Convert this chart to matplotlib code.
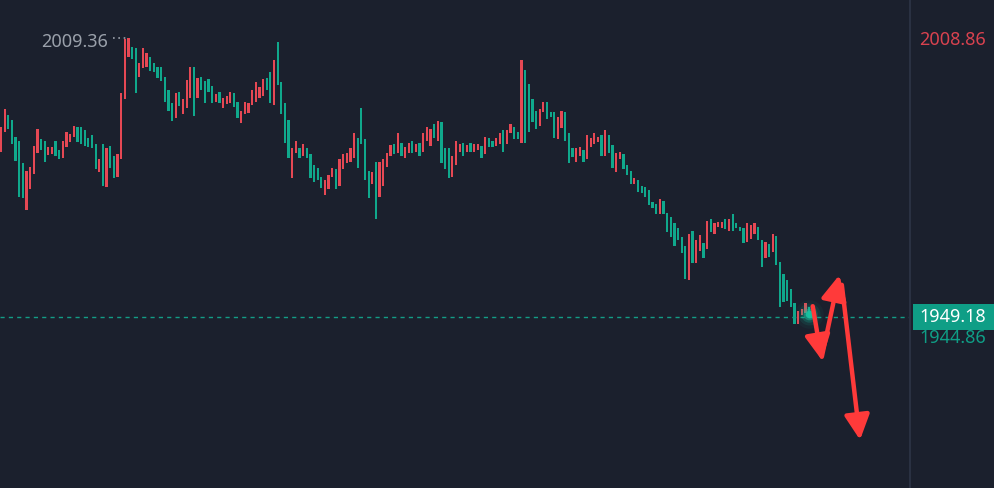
import matplotlib

matplotlib.use("Agg")
import matplotlib.pyplot as plt
from matplotlib.patches import Rectangle
import numpy as np

# candle bodies, oldest first (red = up, green = down)
opens = [
    1984.7, 1989.0, 1992.7, 1991.6, 1988.0, 1987.1, 1982.4, 1972.2, 1976.8, 1980.0,
    1984.5, 1987.5, 1987.1, 1984.1, 1984.3, 1987.1, 1985.2, 1983.4, 1985.8, 1986.9,
    1988.0, 1990.1, 1990.1, 1989.5, 1987.7, 1988.4, 1986.5, 1980.4, 1986.5, 1977.2,
    1986.0, 1983.9, 1979.3,
    1983.2, 1996.2, 2005.2, 2007.4, 2007.1, 2000.9, 2002.8, 2003.0, 2005.2, 2003.9,
    2003.0, 2003.0, 2000.9, 1998.1, 1995.3, 1992.1, 1997.7, 1992.9, 1994.2, 1996.4,
    2003.0, 1996.4, 2000.9, 2000.0, 2000.5, 1999.0, 1995.5, 1997.7, 1994.2, 1995.1,
    1995.3, 1997.4,
    1995.5, 1991.0, 1992.9, 1993.2, 1994.9, 1995.5, 1996.4, 1996.8, 2000.7, 2002.0,
    1994.9, 2008.4, 1999.8, 1995.3, 1991.6, 1979.1, 1984.5, 1985.6, 1983.9, 1985.6,
    1984.3, 1981.9, 1981.3, 1979.3, 1975.5, 1976.8, 1979.3, 1981.1, 1977.4, 1981.1,
    1982.4,
    1982.6, 1983.4, 1987.7, 1994.2, 1987.5, 1980.6, 1977.8, 1982.6, 1975.0, 1977.4,
    1981.5, 1983.9, 1986.5, 1984.5, 1986.7, 1983.4, 1984.5, 1987.1, 1984.7, 1986.7,
    1984.7, 1987.1, 1986.0, 1990.8, 1987.1, 1991.2, 1985.6, 1985.6, 1979.3, 1981.9,
    1984.7, 1986.7,
    1984.7, 1986.7, 1984.7, 1985.2, 1986.0, 1984.3, 1987.7, 1987.1, 1986.0, 1986.5,
    1989.5, 1986.5, 1988.8, 1990.1, 1989.0, 1986.7, 2002.4, 1999.4, 1996.2, 1993.6,
    1990.3, 1993.3, 1995.5, 1993.3, 1993.3, 1987.5, 1989.9, 1993.3, 1988.8, 1985.6,
    1982.6,
    1983.9, 1985.2, 1983.2, 1985.8, 1986.5, 1986.9, 1988.4, 1983.9, 1988.4, 1986.2,
    1980.4, 1983.2, 1984.3, 1981.9, 1980.6, 1977.8, 1978.7, 1977.4, 1977.2, 1976.5,
    1974.0, 1973.5, 1971.4, 1974.2, 1971.6, 1970.7, 1969.4, 1968.4, 1966.4, 1964.5,
    1957.2, 1967.7,
    1960.8, 1963.4, 1965.1, 1963.8, 1970.3, 1967.1, 1968.6, 1968.4, 1970.3, 1967.7,
    1971.4, 1969.4, 1968.4, 1968.4, 1965.3, 1966.0, 1967.1, 1968.6, 1965.8, 1961.9,
    1964.9, 1963.2, 1966.6, 1961.0, 1958.4, 1957.2, 1955.2, 1952.2, 1947.7, 1949.6,
    1950.0, 1951.3,
]
closes = [
    1990.1, 1994.0, 1989.7, 1986.5, 1982.8, 1975.0, 1974.8, 1980.6, 1981.5, 1986.0,
    1989.7, 1985.2, 1982.6, 1985.8, 1985.8, 1983.9, 1983.2, 1987.1, 1989.0, 1988.6,
    1990.3, 1986.9, 1986.5, 1986.0, 1985.8, 1985.6, 1981.1, 1983.2, 1977.4, 1985.6,
    1981.3, 1979.1, 1984.3,
    1997.4, 2009.1, 2009.36, 2004.8, 1997.4, 2003.9, 2007.1, 2006.1, 2002.2, 2002.0,
    2000.7, 2000.0, 1995.5, 1993.6, 1991.4, 1997.4, 1994.6, 1996.2, 2000.2, 2003.0,
    1992.5, 2000.7, 1998.1, 1995.3, 1997.7, 1995.3, 1997.2, 1995.3, 1996.4, 1996.8,
    1997.7, 1994.4,
    1992.1, 1993.6, 1995.5, 1995.3, 1998.1, 1999.8, 1998.7, 2000.5, 1998.1, 1995.3,
    2004.6, 1999.2, 1992.9, 1986.7, 1983.4, 1985.6, 1987.1, 1983.4, 1986.5, 1983.4,
    1979.1, 1978.3, 1978.7, 1977.0, 1978.7, 1979.8, 1981.3, 1976.8, 1983.2, 1984.3,
    1984.5,
    1985.6, 1988.8, 1981.3, 1986.5, 1978.7, 1974.8, 1980.4, 1970.3, 1982.6, 1983.2,
    1984.5, 1986.2, 1984.3, 1988.8, 1983.9, 1985.8, 1986.7, 1984.5, 1986.5, 1983.9,
    1988.8, 1990.1, 1989.7, 1987.7, 1991.4, 1982.4, 1981.1, 1979.1, 1983.9, 1987.1,
    1986.5, 1983.9,
    1986.2, 1984.7, 1986.5, 1986.5, 1983.4, 1988.0, 1985.8, 1985.8, 1987.7, 1988.8,
    1984.7, 1989.5, 1990.8, 1987.5, 1987.5, 2004.6, 1986.7, 1989.0, 1991.2, 1989.7,
    1994.0, 1995.5, 1991.8, 1992.3, 1987.7, 1992.3, 1993.6, 1987.1, 1982.4, 1983.7,
    1985.6,
    1985.8, 1982.6, 1988.4, 1987.7, 1988.8, 1988.0, 1983.9, 1989.5, 1984.5, 1981.3,
    1984.5, 1984.7, 1981.1, 1979.8, 1977.8, 1979.1, 1976.1, 1975.9, 1975.0, 1973.3,
    1972.7, 1971.4, 1974.6, 1971.4, 1967.5, 1966.4, 1964.5, 1965.8, 1963.0, 1957.4,
    1967.1, 1960.8,
    1965.8, 1966.8, 1961.9, 1969.9, 1967.5, 1969.4, 1969.6, 1969.6, 1968.1, 1970.3,
    1967.7, 1968.4, 1967.7, 1965.1, 1969.4, 1969.0, 1969.4, 1965.8, 1959.9, 1965.3,
    1962.1, 1967.1, 1960.4, 1951.3, 1952.4, 1952.6, 1951.3, 1947.7, 1950.5, 1950.9,
    1952.2, 1949.18,
]

high_price = 2009.36
high_index = 35
top_label = 2008.86
last_price = 1949.18
bid_price = 1944.86

# hand-drawn red arrows (bar index, price)
arrows = [
    ((223.0, 1951.5), (225.5, 1939.9)),
    ((225.5, 1940.6), (230.3, 1958.2)),
    ((231.0, 1956.1), (236.0, 1922.7)),
]

BG = "#1b202d"
UP = "#e64854"
DOWN = "#10a88c"
GRID_LINE = "#2a3142"
ARROW = "#ff3a3a"

plt.rcParams["font.family"] = ["Noto Sans", "DejaVu Sans"]

fig = plt.figure(figsize=(9.95, 4.88), dpi=100, facecolor=BG)
ax = fig.add_axes([0, 0, 910 / 995, 1])
ax.set_facecolor(BG)

o = np.array(opens)
c = np.array(closes)
idx = np.arange(len(o))
colors = np.where(c >= o, UP, DOWN)
ax.bar(idx, np.maximum(np.abs(c - o), 0.8), bottom=np.minimum(o, c), width=0.62,
       color=colors, linewidth=0)

ax.set_xlim(-0.275, 249.725)
ax.set_ylim(1912.33, 2017.48)
ax.set_xticks([])
ax.set_yticks([])
for name in ("top", "bottom", "left"):
    ax.spines[name].set_visible(False)
ax.spines["right"].set_color(GRID_LINE)
ax.spines["right"].set_linewidth(1.5)

# last price line
ax.axhline(last_price, color="#139c86", lw=1.0, ls=(0, (3, 3)))

# glowing dot on the last candle
for s, a in [(420, 0.05), (250, 0.1), (140, 0.2), (70, 0.45), (30, 0.9)]:
    ax.scatter(idx[-1], 1949.8, s=s, color="#18c4a2", alpha=a, linewidths=0, zorder=5)

# high marker
ax.plot([high_index - 4.2, high_index - 0.6], [high_price, high_price], color="#9aa0aa",
        lw=1.2, ls=(0, (1, 2.2)))
ax.annotate(f"{high_price:.2f}", (high_index - 5.6, high_price), xytext=(0, -3),
            textcoords="offset points", ha="right", va="center", color="#9aa0aa", fontsize=13)

# right-hand price labels
yt = ax.get_yaxis_transform()
ax.text(1.01, top_label, f"{top_label:.2f}", transform=yt, ha="left", va="center",
        color="#d9424f", fontsize=13, clip_on=False)
ax.add_patch(Rectangle((1.003, last_price - 2.8), 0.1, 5.6, transform=yt,
                       facecolor="#0f9e86", edgecolor="none", clip_on=False))
ax.text(1.01, last_price, f"{last_price:.2f}", transform=yt, ha="left", va="center",
        color="white", fontsize=13, clip_on=False)
ax.text(1.01, bid_price - 0.3, f"{bid_price:.2f}", transform=yt, ha="left", va="center",
        color="#0f9e86", fontsize=13, clip_on=False)

for start, end in arrows:
    ax.annotate("", xy=end, xytext=start,
                arrowprops=dict(arrowstyle="-|>,head_length=0.75,head_width=0.38",
                                mutation_scale=20, color=ARROW, lw=3.2,
                                shrinkA=0, shrinkB=0), zorder=6)

fig.savefig("out.png", dpi=100, facecolor=BG)
